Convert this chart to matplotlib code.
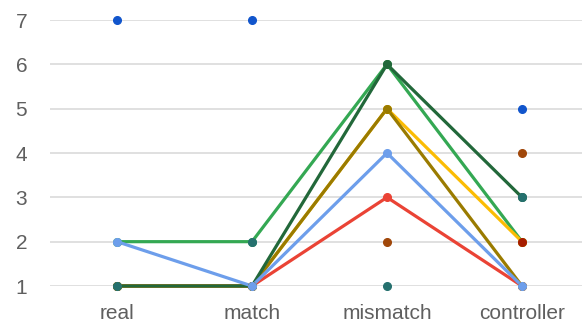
import numpy as np
import matplotlib.pyplot as plt

categories = ['real', 'match', 'mismatch', 'controller']
yticks = [1, 2, 3, 4, 5, 6, 7]

# series drawn as lines
green = [2, 2, 6, 2]
yellow = [1, 1, 5, 2]
red = [1, 1, 3, 1]
gold = [1, 1, 5, 1]
darkgreen = [1, 1, 6, 3]
lightblue = [2, 1, 4, 1]

# series drawn as points only (nan = no value)
teal = [1, 2, 1, 3]
brown = [np.nan, np.nan, 2, 4]
darkred = [np.nan, np.nan, np.nan, 2]
darkblue = [7, 7, np.nan, 5]

lines = [(green, '#34a853'), (yellow, '#fbbc04'), (red, '#ea4335'),
         (gold, '#9a7b00'), (darkgreen, '#22683a'), (lightblue, '#6d9eeb')]
points = [(teal, '#25706e'), (brown, '#a0470a'), (darkred, '#a61c00'),
          (darkblue, '#1155cc')]

plt.rcParams['font.family'] = ['Liberation Sans', 'DejaVu Sans']

fig = plt.figure(figsize=(5.82, 3.27), dpi=100)
ax = fig.add_axes([49.5/582, 41/327, 540/582, 266/327])
x = np.arange(len(categories))

z = 3
for vals, c in lines:
    ax.plot(x, vals, color=c, lw=2.3, solid_capstyle='round', zorder=z, clip_on=False)
    z += 0.1
for vals, c in [lines[0], lines[1], lines[2], lines[4], lines[3], lines[5]] + points:
    ax.plot(x, vals, ls='none', marker='o', ms=5.5, color=c, zorder=z, clip_on=False)
    z += 0.1

ax.set_xlim(-0.5, 3.5)
ax.set_ylim(1, 7)
ax.set_xticks(x)
ax.set_xticklabels(categories)
ax.set_yticks(yticks)
ax.grid(axis='y', color='#e0e0e0', lw=1.4)
ax.set_axisbelow(True)
for s in ax.spines.values():
    s.set_visible(False)
ax.tick_params(axis='both', length=0, labelsize=15, colors='#5f5f5f')
ax.tick_params(axis='y', pad=16)
ax.tick_params(axis='x', pad=13)

fig.savefig('out.png', dpi=100)
